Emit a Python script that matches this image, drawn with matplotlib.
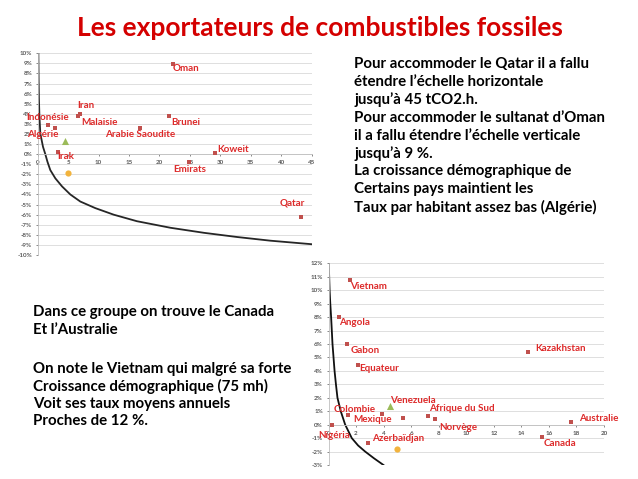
import numpy as np
import matplotlib
matplotlib.use("Agg")
import matplotlib.pyplot as plt

plt.rcParams['font.family'] = ['Lato', 'DejaVu Sans']

W, H = 638, 479

# --- données graphique 1 (exportateurs, échelle jusqu'à 45 tCO2/h) ---
pays1 = ['Oman', 'Iran', 'Malaisie', 'Indonésie', 'Algérie', 'Irak',
         'Arabie Saoudite', 'Brunei', 'Koweit', 'Emirats', 'Qatar']
co2_1 = [22.3, 7.0, 6.7, 1.75, 2.9, 3.4, 16.8, 21.6, 29.1, 24.9, 43.2]
taux_1 = [8.9, 4.0, 3.8, 2.94, 2.55, 0.23, 2.6, 3.8, 0.07, -0.75, -6.2]
# triangle vert et rond orange (repères)
tri_1 = (4.5, 1.3)
rond_1 = (5.0, -1.85)
# courbe
courbe1_x = [0.11, 0.15, 0.2, 0.28, 0.43, 0.87, 1.25, 1.6, 2.07, 2.9, 4.0,
             5.36, 7.0, 9.46, 12.47, 16.3, 21.8, 27.3, 32.8, 38.2, 45.0]
courbe1_y = [9.98, 7.5, 5.5, 3.8, 2.05, 0.73, 0.0, -0.75, -1.58, -2.4, -3.2,
             -4.0, -4.7, -5.35, -6.0, -6.65, -7.3, -7.8, -8.22, -8.58, -8.93]

# --- données graphique 2 (échelle jusqu'à 20 tCO2/h) ---
pays2 = ['Vietnam', 'Angola', 'Gabon', 'Equateur', 'Kazakhstan', 'Colombie',
         'Mexique', '', 'Afrique du Sud', 'Norvège', 'Nigéria', 'Azerbaïdjan',
         'Canada', 'Australie']
co2_2 = [1.53, 0.73, 1.36, 2.13, 14.45, 1.4, 3.9, 5.4, 7.22, 7.76, 0.24, 2.9,
         15.47, 17.58]
taux_2 = [10.76, 8.03, 5.98, 4.44, 5.38, 0.74, 0.79, 0.52, 0.64, 0.45, 0.0, -1.34,
          -0.94, 0.22]
tri_2 = (4.48, 1.39)
rond_2 = (5.0, -1.83)
courbe2_x = [0.02, 0.05, 0.08, 0.13, 0.19, 0.29, 0.44, 0.54, 0.65, 0.89, 1.21,
             1.69, 2.15, 2.66, 3.3, 3.99]
courbe2_y = [12.0, 11.0, 10.0, 9.0, 8.0, 6.0, 4.0, 3.0, 2.0, 1.0, 0.0,
             -1.0, -1.55, -2.0, -2.5, -3.0]

titre = "Les exportateurs de combustibles fossiles"
texte_haut = ["Pour accommoder le Qatar il a fallu",
              "étendre l’échelle horizontale",
              "jusqu’à 45 tCO2.h.",
              "Pour accommoder le sultanat d’Oman",
              "il a fallu étendre l’échelle verticale",
              "jusqu’à 9 %.",
              "La croissance démographique de",
              "Certains pays maintient les",
              "Taux par habitant assez bas (Algérie)"]
texte_bas1 = ["Dans ce groupe on trouve le Canada",
              "Et l’Australie"]
texte_bas2 = ["On note le Vietnam qui malgré sa forte",
              "Croissance démographique (75 mh)",
              "Voit ses taux moyens annuels",
              "Proches de 12 %."]

# position des étiquettes (coin gauche, en unités des données)
etiq1 = {'Oman': (22.2, 8.53), 'Iran': (6.57, 4.83), 'Indonésie': (-1.92, 3.64),
         'Malaisie': (7.12, 3.17), 'Algérie': (-1.8, 1.92),
         'Arabie Saoudite': (11.1, 1.92), 'Brunei': (21.95, 3.17),
         'Irak': (3.23, -0.26), 'Koweit': (29.45, 0.5), 'Emirats': (22.3, -1.55),
         'Qatar': (39.7, -4.89)}
etiq2 = {'Vietnam': (1.6, 10.27), 'Angola': (0.8, 7.59), 'Gabon': (1.58, 5.53),
         'Equateur': (2.21, 4.19), 'Kazakhstan': (14.98, 5.63),
         'Venezuela': (4.44, 1.76), 'Colombie': (0.36, 1.14), 'Mexique': (1.77, 0.37),
         'Afrique du Sud': (7.3, 1.19), 'Norvège': (8.07, -0.22),
         'Australie': (18.16, 0.45), 'Nigéria': (-0.78, -0.77),
         'Azerbaïdjan': (3.18, -1.04), 'Canada': (15.64, -1.39)}

ROUGE_MARQ = '#c0504d'
ROUGE_TXT = '#dd2a2a'
VERT = '#9bbb59'
ORANGE = '#f2b33d'
GRIS = '#d9d9d9'


def rect(x0, y0, x1, y1):
    return [x0 / W, 1 - y1 / H, (x1 - x0) / W, (y1 - y0) / H]


def style_axe(ax, xmax, xstep, ymin, ymax):
    ax.set_xlim(0, xmax)
    ax.set_ylim(ymin, ymax)
    for s in ['top', 'right']:
        ax.spines[s].set_visible(False)
    ax.spines['bottom'].set_position(('data', 0))
    ax.spines['bottom'].set_color('#bfbfbf')
    ax.spines['left'].set_color('#bfbfbf')
    ax.spines['bottom'].set_linewidth(0.6)
    ax.spines['left'].set_linewidth(0.6)
    ax.set_xticks(np.arange(0, xmax + 0.1, xstep))
    yt = np.arange(ymin, ymax + 1)
    ax.set_yticks(yt)
    ax.set_yticklabels([f"{int(v)}%" for v in yt])
    ax.tick_params(axis='both', labelsize=4.5, colors='#595959', length=1.5,
                   width=0.5, pad=2.5)
    ax.tick_params(axis='x', pad=3)
    for lab in ax.get_xticklabels() + ax.get_yticklabels():
        lab.set_fontweight('bold')
    ax.grid(axis='y', color=GRIS, lw=0.6)
    ax.set_axisbelow(True)
    ax.patch.set_alpha(0)


fig = plt.figure(figsize=(W / 100, H / 100), dpi=100)

fig.text(320 / W, 1 - 28 / H, titre, ha='center', va='center',
         fontsize=19, fontweight='bold', color='#d40000')

# graphique 1
ax1 = fig.add_axes(rect(37.7, 53.3, 311.7, 255))
style_axe(ax1, 45, 5, -10, 10)
ax1.plot(courbe1_x, courbe1_y, color='#262626', lw=1.3, zorder=2)
ax1.scatter(co2_1, taux_1, marker='s', s=10, color=ROUGE_MARQ, zorder=3, lw=0)
ax1.scatter([tri_1[0]], [tri_1[1]], marker='^', s=26, color=VERT, zorder=3, lw=0)
ax1.scatter([rond_1[0]], [rond_1[1]], marker='o', s=20, color=ORANGE, zorder=3, lw=0)
for nom, (x, y) in etiq1.items():
    ax1.text(x, y, nom, ha='left', va='center', fontsize=7.1, fontweight='bold',
             color=ROUGE_TXT, zorder=4, clip_on=False)

# graphique 2
ax2 = fig.add_axes(rect(328.5, 263.3, 604, 465))
style_axe(ax2, 20, 2, -3, 12)
ax2.plot(courbe2_x, courbe2_y, color='#111111', lw=1.3, zorder=2)
ax2.scatter(co2_2, taux_2, marker='s', s=10, color=ROUGE_MARQ, zorder=3, lw=0)
ax2.scatter([tri_2[0]], [tri_2[1]], marker='^', s=26, color=VERT, zorder=3, lw=0)
ax2.scatter([rond_2[0]], [rond_2[1]], marker='o', s=20, color=ORANGE, zorder=3, lw=0)
for nom, (x, y) in etiq2.items():
    ax2.text(x, y, nom, ha='left', va='center', fontsize=7.1, fontweight='bold',
             color=ROUGE_TXT, zorder=4, clip_on=False)

# textes
for i, ligne in enumerate(texte_haut):
    fig.text(354 / W, 1 - (64.3 + i * 17.85) / H, ligne, ha='left', va='center',
             fontsize=10.8, fontweight='bold', color='black')
for i, ligne in enumerate(texte_bas1):
    fig.text(33.3 / W, 1 - (312.3 + i * 17.35) / H, ligne, ha='left', va='center',
             fontsize=10.8, fontweight='bold', color='black')
for i, ligne in enumerate(texte_bas2):
    fig.text(33.3 / W, 1 - (369.3 + i * 17.35) / H, ligne, ha='left', va='center',
             fontsize=10.8, fontweight='bold', color='black')

fig.savefig('out.png', dpi=100)
